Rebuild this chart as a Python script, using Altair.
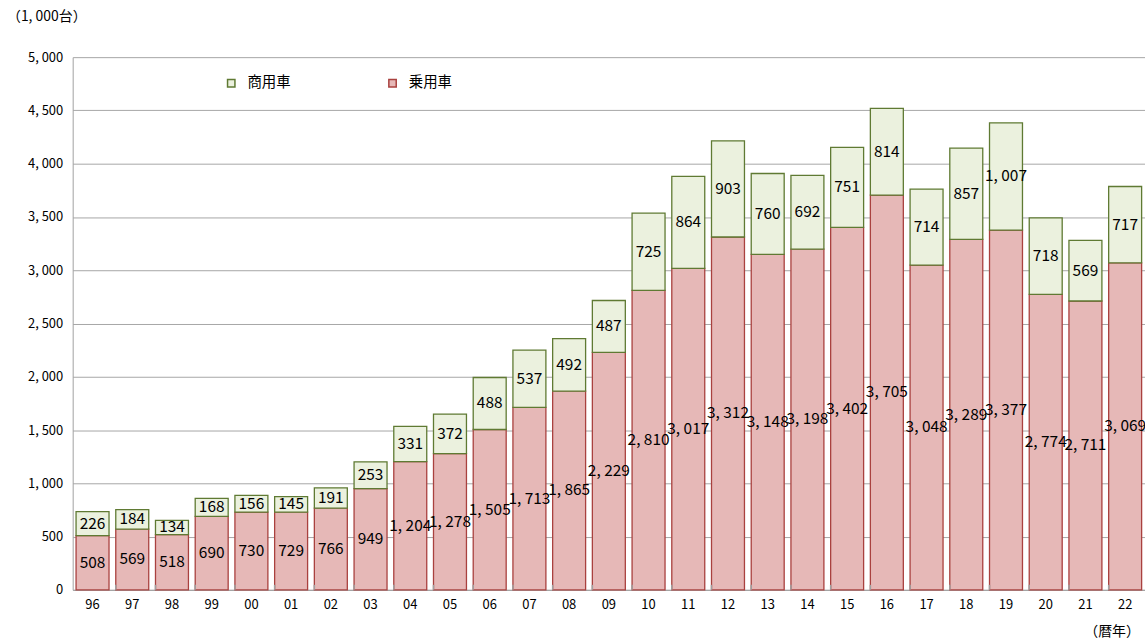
import altair as alt
import pandas as pd

years = ["96", "97", "98", "99", "00", "01", "02", "03", "04", "05", "06", "07", "08", "09",
         "10", "11", "12", "13", "14", "15", "16", "17", "18", "19", "20", "21", "22"]
passenger = [508, 569, 518, 690, 730, 729, 766, 949, 1204, 1278, 1505, 1713, 1865, 2229,
             2810, 3017, 3312, 3148, 3198, 3402, 3705, 3048, 3289, 3377, 2774, 2711, 3069]
commercial = [226, 184, 134, 168, 156, 145, 191, 253, 331, 372, 488, 537, 492, 487,
              725, 864, 903, 760, 692, 751, 814, 714, 857, 1007, 718, 569, 717]

series = ["商用車", "乗用車"]
fills = ["#EBF1DE", "#E6B8B7"]
strokes = ["#5F7A33", "#A9413F"]

rows = []
for y, p, c in zip(years, passenger, commercial):
    rows.append({"year": y, "type": "乗用車", "v": p, "lo": 0, "hi": p, "ord": 0})
    rows.append({"year": y, "type": "商用車", "v": c, "lo": p, "hi": p + c, "ord": 1})
df = pd.DataFrame(rows)

FONT = "Noto Sans CJK JP"

base = alt.Chart(df)

xscale = alt.Scale(paddingInner=0.17, paddingOuter=0.085)

x = alt.X("year:N", sort=years, title=None, scale=xscale,
          axis=alt.Axis(labelAngle=0, ticks=False, domainColor="#A0A0A0",
                        labelFontSize=13, labelColor="#000000", labelPadding=9,
                        labelFont=FONT))

legend_opts = dict(title=None, orient="none", legendX=152, legendY=19,
                   direction="horizontal", symbolType="square",
                   symbolSize=55, symbolStrokeWidth=1.5,
                   columnPadding=95, labelFontSize=14.5, labelFont=FONT,
                   labelColor="#000000", labelOffset=9)

bars = base.mark_bar(strokeWidth=1.3).encode(
    x=x,
    y=alt.Y("lo:Q", title=None,
            scale=alt.Scale(domain=[0, 5000], nice=False),
            axis=alt.Axis(values=list(range(0, 5001, 500)), ticks=False,
                          domainColor="#A0A0A0", gridColor="#A6A6A6",
                          labelFontSize=13, labelColor="#000000", labelPadding=10,
                          labelFont=FONT,
                          labelExpr="replace(format(datum.value, ','), ',', ', ')")),
    y2="hi:Q",
    fill=alt.Fill("type:N", scale=alt.Scale(domain=series, range=fills),
                  legend=alt.Legend(**legend_opts)),
    stroke=alt.Stroke("type:N", scale=alt.Scale(domain=series, range=strokes),
                      legend=alt.Legend(**legend_opts)),
    order=alt.Order("ord:Q"),
)

# small category separators standing on the baseline
seps = alt.Chart(pd.DataFrame({"year": years[1:]})).mark_rule(
    color="#A0A0A0", strokeWidth=1.5
).encode(
    x=alt.X("year:N", sort=years, bandPosition=0, scale=xscale),
    y=alt.value(535),
    y2=alt.value(530),
)

labels = base.transform_calculate(
    mid="(datum.lo + datum.hi) / 2",
    txt="replace(format(datum.v, ','), ',', ', ')",
).mark_text(fontSize=15.5, font=FONT, color="#000000").encode(
    x=alt.X("year:N", sort=years, scale=xscale),
    y=alt.Y("mid:Q"),
    text="txt:N",
)

unit = alt.Chart(pd.DataFrame({"t": ["（1, 000台）"]})).mark_text(
    align="left", baseline="middle", fontSize=14, font=FONT, color="#000000"
).encode(x=alt.value(-66), y=alt.value(-40), text="t:N")

yr = alt.Chart(pd.DataFrame({"t": ["（暦年）"]})).mark_text(
    align="left", baseline="middle", fontSize=14, font=FONT, color="#000000"
).encode(x=alt.value(1016), y=alt.value(577), text="t:N")

chart = alt.layer(bars, seps, labels, unit, yr).properties(
    width=1077, height=535,
    autosize=alt.AutoSizeParams(type="none"),
    padding={"left": 73, "top": 56, "right": 0, "bottom": 52},
).configure_view(stroke=None).configure_axis(grid=True).configure_axisX(grid=False)

chart.save("out.html", embed_options={"renderer": "svg", "actions": False})
